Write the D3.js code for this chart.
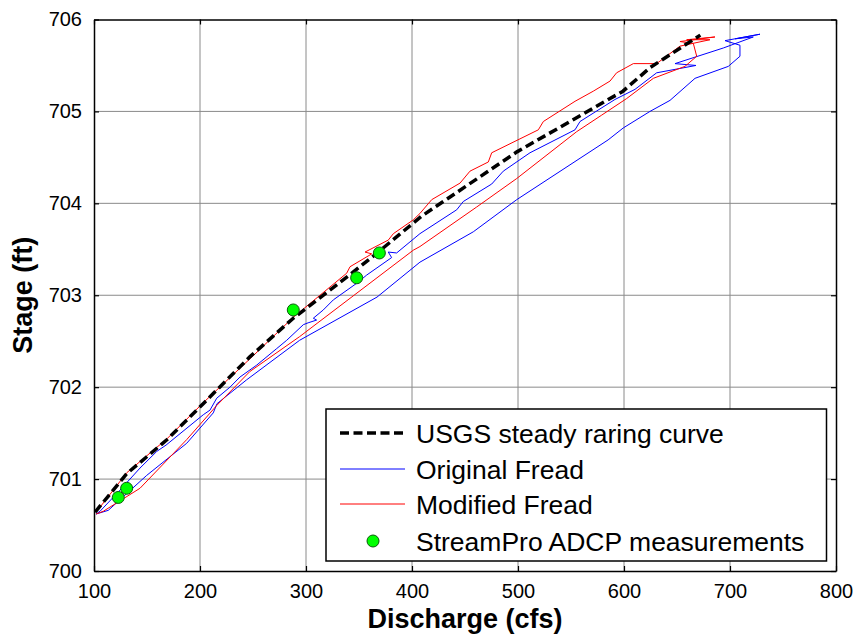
<!DOCTYPE html>
<html>
<head>
<meta charset="utf-8">
<script src="https://cdn.jsdelivr.net/npm/d3@7"></script>
<style>
  body { margin: 0; background: #fff; }
  text { font-family: "Liberation Sans", Arial, sans-serif; }
</style>
</head>
<body>
<div id="chart"></div>
<script>
// usgs steady rating curve
var usgsQ = [101, 131, 169, 203, 247, 288, 341, 365, 409, 499, 599, 625, 672];
var usgsStage = [700.64, 701.06, 701.43, 701.82, 702.33, 702.75, 703.22, 703.44, 703.86, 704.56, 705.22, 705.48, 705.83];

// original fread loop (rising limb, tip, falling limb)
var origQ = [102, 113.5, 149.7, 187.5, 212.5, 216, 244, 294, 367, 407.5, 457.8, 498.8, 585, 599.3, 624.5, 643.4, 667, 698.4, 709.4, 709.4,
  695.3, 728.3, 705, 722, 693.7,
  648.1, 667.9, 630.8, 610.4, 591.5, 558.5, 553.8, 511.3, 486.1, 475.2, 448.4, 442.2, 407.5, 385.5, 377.6, 380.8, 357.3, 347.8, 325.8,
  316.3, 306.9, 310, 302, 297.5, 281.8, 272.4, 253.5, 237.7, 228.3, 215.8, 209.4, 203.1, 168, 159.1, 143.4, 124.5, 105.7, 102];
var origStage = [700.62, 700.66, 701.04, 701.39, 701.72, 701.82, 702.08, 702.51, 702.98, 703.36, 703.69, 704.04, 704.69, 704.82, 705.0, 705.12, 705.36, 705.49, 705.6, 705.72,
  705.77, 705.84, 705.79, 705.81, 705.69,
  705.52, 705.5, 705.42, 705.24, 705.13, 704.89, 704.8, 704.55, 704.35, 704.21, 704.02, 703.93, 703.67, 703.46, 703.47, 703.41, 703.22, 703.13, 702.95,
  702.84, 702.75, 702.73, 702.7, 702.68, 702.51, 702.42, 702.24, 702.11, 702.0, 701.88, 701.75, 701.7, 701.37, 701.3, 701.12, 700.88, 700.65, 700.62];

// modified fread loop
var modQ = [102, 108.8, 143.4, 187.5, 215.7, 247, 294, 401.2, 407.5, 461, 498.8, 555.4, 579, 602.5, 627.7, 657.5, 668.6, 665.4,
  652.8, 685.8, 659.1, 681.1, 652.8,
  640, 630.8, 608.8, 593, 586.8, 571, 553.8, 523.9, 519.2, 475.2, 472, 454.7, 445.3, 418.6, 407.5, 401.2, 382.4, 377.6, 355.7, 362,
  341.5, 338.4, 288, 250, 203, 169, 131, 102];
var modStage = [700.62, 700.65, 700.9, 701.43, 701.8, 702.17, 702.55, 703.49, 703.53, 703.96, 704.27, 704.78, 704.96, 705.14, 705.36, 705.49, 705.6, 705.74,
  705.76, 705.81, 705.78, 705.78, 705.71,
  705.6, 705.52, 705.52, 705.42, 705.33, 705.22, 705.11, 704.89, 704.8, 704.55, 704.45, 704.35, 704.22, 704.04, 703.89, 703.82, 703.67, 703.6, 703.47, 703.45,
  703.31, 703.24, 702.76, 702.34, 701.83, 701.44, 701.07, 700.64];

// streampro adcp measurements
var adcpQ = [122.9, 130.8, 288, 347.8, 369.2];
var adcpStage = [700.80, 700.90, 702.84, 703.19, 703.46];

var xTicks = [100, 200, 300, 400, 500, 600, 700, 800];
var yTicks = [700, 701, 702, 703, 704, 705, 706];
var legendLabels = ["USGS steady raring curve", "Original Fread", "Modified Fread", "StreamPro ADCP measurements"];

(function () {
  var width = 859,
    height = 639;
  var left = 94, right = 836, top = 19.5, bottom = 571;

  var svg = d3.select("#chart")
    .append("svg")
    .attr("width", width)
    .attr("height", height)

  var x = d3.scaleLinear().domain([100, 800]).range([left, right]);
  var y = d3.scaleLinear().domain([700, 706]).range([bottom, top]);

  // grid
  svg.append("g")
    .selectAll("line")
    .data(xTicks.slice(1, -1))
    .enter().append("line")
    .attr("x1", function (d) { return x(d) }).attr("x2", function (d) { return x(d) })
    .attr("y1", top).attr("y2", bottom)
    .attr("stroke", "#8a8a8a").attr("stroke-width", 1)

  svg.append("g")
    .selectAll("line")
    .data(yTicks.slice(1, -1))
    .enter().append("line")
    .attr("y1", function (d) { return y(d) }).attr("y2", function (d) { return y(d) })
    .attr("x1", left).attr("x2", right)
    .attr("stroke", "#8a8a8a").attr("stroke-width", 1)

  // axes, ticks inside on all four sides
  var tk = 5;
  svg.append("g")
    .attr("transform", "translate(0," + bottom + ")")
    .call(d3.axisBottom(x).tickValues(xTicks).tickSizeInner(-tk).tickSizeOuter(0).tickPadding(13).tickFormat(d3.format("d")))
  svg.append("g")
    .attr("transform", "translate(0," + top + ")")
    .call(d3.axisTop(x).tickValues(xTicks).tickSizeInner(-tk).tickSizeOuter(0).tickFormat(""))
  svg.append("g")
    .attr("transform", "translate(" + left + ",0)")
    .call(d3.axisLeft(y).tickValues(yTicks).tickSizeInner(-tk).tickSizeOuter(0).tickPadding(12).tickFormat(d3.format("d")))
  svg.append("g")
    .attr("transform", "translate(" + right + ",0)")
    .call(d3.axisRight(y).tickValues(yTicks).tickSizeInner(-tk).tickSizeOuter(0).tickFormat(""))

  svg.selectAll(".domain").attr("stroke", "#000").attr("stroke-width", 1.5)
  svg.selectAll(".tick line").attr("stroke", "#000").attr("stroke-width", 1.2)
  svg.selectAll(".tick text")
    .attr("font-family", "'Liberation Sans', Arial, sans-serif")
    .attr("font-size", "20px")
    .attr("fill", "#000")

  var line = d3.line()
    .x(function (d) { return x(d[0]) })
    .y(function (d) { return y(d[1]) })

  svg.append("path")
    .datum(d3.zip(origQ, origStage))
    .attr("d", line)
    .attr("fill", "none")
    .attr("stroke", "#0000ff")
    .attr("stroke-width", 1)

  svg.append("path")
    .datum(d3.zip(modQ, modStage))
    .attr("d", line)
    .attr("fill", "none")
    .attr("stroke", "#ff0000")
    .attr("stroke-width", 1)

  svg.append("path")
    .datum(d3.zip(usgsQ, usgsStage))
    .attr("d", line)
    .attr("fill", "none")
    .attr("stroke", "#000")
    .attr("stroke-width", 3.5)
    .attr("stroke-dasharray", "9,4.5")

  svg.selectAll(".adcp")
    .data(d3.zip(adcpQ, adcpStage))
    .enter().append("circle")
    .attr("class", "adcp")
    .attr("cx", function (d) { return x(d[0]) })
    .attr("cy", function (d) { return y(d[1]) })
    .attr("r", 6)
    .attr("fill", "#00ff00")
    .attr("stroke", "#0b5a0b")
    .attr("stroke-width", 1)

  // axis titles
  svg.append("text")
    .attr("x", (left + right) / 2)
    .attr("y", 628)
    .attr("text-anchor", "middle")
    .attr("font-size", "27px")
    .attr("font-weight", "bold")
    .text("Discharge (cfs)")

  svg.append("text")
    .attr("transform", "translate(31.5," + ((top + bottom) / 2) + ") rotate(-90)")
    .attr("text-anchor", "middle")
    .attr("font-size", "27px")
    .attr("font-weight", "bold")
    .text("Stage (ft)")

  // legend
  var legend = svg.append("g")
  legend.append("rect")
    .attr("x", 326).attr("y", 409)
    .attr("width", 500.5).attr("height", 152)
    .attr("fill", "#fff")
    .attr("stroke", "#000")
    .attr("stroke-width", 1.5)

  var rowY = [433, 469, 504, 541];
  var items = legend.selectAll(".item")
    .data(legendLabels)
    .enter().append("g")
    .attr("class", "item")
    .attr("transform", function (d, i) { return "translate(0," + rowY[i] + ")" })

  items.filter(function (d, i) { return i < 3 })
    .append("line")
    .attr("x1", 340).attr("x2", 405)
    .attr("stroke", function (d, i) { return ["#000", "#0000ff", "#ff0000"][i] })
    .attr("stroke-width", function (d, i) { return i === 0 ? 3.5 : 1 })
    .attr("stroke-dasharray", function (d, i) { return i === 0 ? "9,4.5" : null })

  items.filter(function (d, i) { return i === 3 })
    .append("circle")
    .attr("cx", 373).attr("r", 6)
    .attr("fill", "#00ff00")
    .attr("stroke", "#0b5a0b")

  items.append("text")
    .attr("x", 416)
    .attr("dy", "0.36em")
    .attr("font-size", "26.5px")
    .text(function (d) { return d })
})();
</script>
</body>
</html>
